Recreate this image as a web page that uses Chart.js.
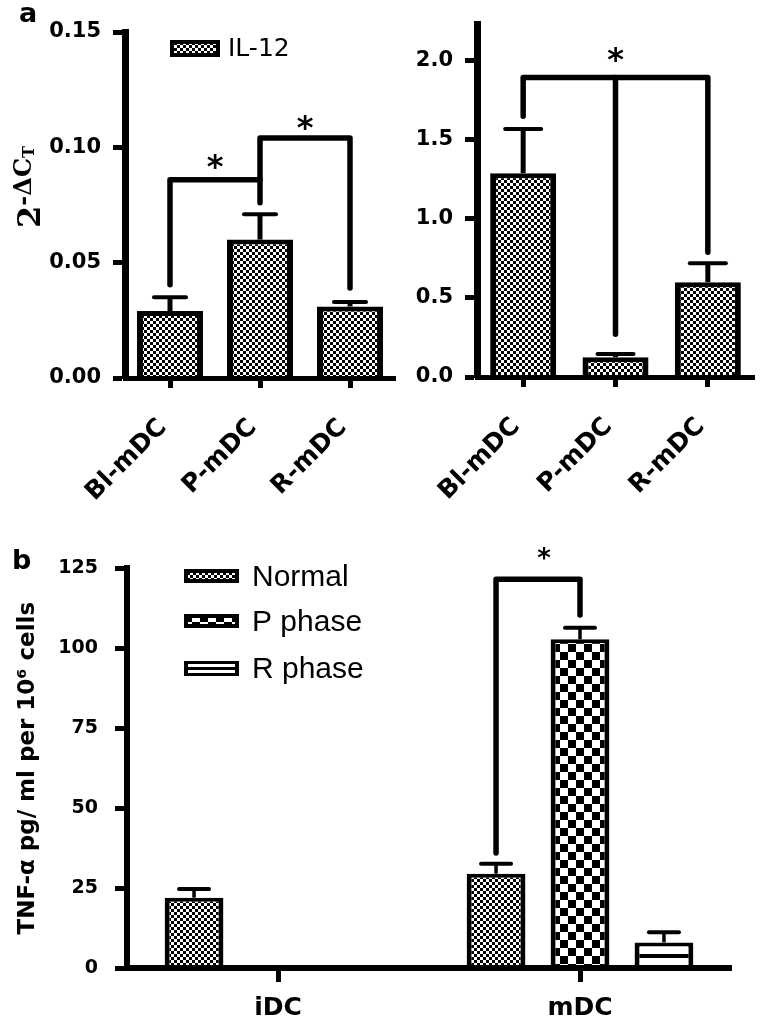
<!DOCTYPE html>
<html>
<head>
<meta charset="utf-8">
<script src="https://cdn.jsdelivr.net/npm/chart.js@4.4.0/dist/chart.umd.min.js"></script>
<style>
html, body { margin: 0; padding: 0; background: #fff; }
#page { position: relative; width: 770px; height: 1017px; overflow: hidden; background: #fff; }
canvas { position: absolute; }
</style>
</head>
<body>
<div id="page">
  <canvas id="il12Left" width="400" height="540" style="left:0;top:0;width:400px;height:540px"></canvas>
  <canvas id="il12Right" width="380" height="540" style="left:390px;top:0;width:380px;height:540px"></canvas>
  <canvas id="tnf" width="770" height="477" style="left:0;top:540px;width:770px;height:477px"></canvas>
</div>
<script>
// panel a
let labelsA = ["Bl-mDC", "P-mDC", "R-mDC"];
let il12Left = [0.029, 0.060, 0.031];
let il12LeftErr = [0.006, 0.011, 0.002];
let il12Right = [1.29, 0.125, 0.60];
let il12RightErr = [0.28, 0.02, 0.12];
let ticksLeft = [0, 0.05, 0.10, 0.15];
let ticksRight = [0, 0.5, 1.0, 1.5, 2.0];
// brackets: [from, to, top, fromEnd, toEnd, mid, midEnd]; points are [dataset, index]
let bracketsLeft = [[[0, 0], [0, 1], 0.086, 0.0404, 0.076], [[0, 1], [0, 2], 0.104, 0.086, 0.039]];
let starsLeft = [[[0, 0], [0, 1], 0.095], [[0, 1], [0, 2], 0.112]];
let bracketsRight = [[[0, 0], [0, 2], 1.895, 1.65, 0.79, [0, 1], 0.27]];
let starsRight = [[[0, 1], [0, 1], 2.06]];

// panel b
let labelsB = ["iDC", "mDC"];
let seriesB = ["Normal", "P phase", "R phase"];
let tnfNormal = [22, 29.5];
let tnfNormalErr = [2.7, 3.1];
let tnfP = [null, 102.8];
let tnfPErr = [null, 3.6];
let tnfR = [null, 8];
let tnfRErr = [null, 3.2];
let ticksB = [0, 25, 50, 75, 100, 125];
let bracketsB = [[[0, 1], [1, 1], 121.6, 36, 110.4]];
let starsB = [[[0, 1], [1, 1], 130]];

let black = "#000";
let bold = (size) => ({family: "DejaVu Sans", size: size, weight: "bold"});

function makeTile(w, h, paint) {
    let c = document.createElement("canvas");
    c.width = w; c.height = h;
    let g = c.getContext("2d");
    g.fillStyle = "#fff"; g.fillRect(0, 0, w, h);
    g.fillStyle = black;
    paint(g);
    return g.createPattern(c, "repeat");
}
let fineChecker = makeTile(6, 6, (g) => { g.fillRect(0, 0, 3, 3); g.fillRect(3, 3, 3, 3); });
let coarseChecker = makeTile(16, 16, (g) => { g.fillRect(0, 0, 8, 8); g.fillRect(8, 8, 8, 8); });
let stripes = makeTile(4, 14, (g) => { g.fillRect(0, 8, 4, 4); });

const errorBars = {
    id: "errorBars",
    afterDatasetsDraw(chart, args, opts) {
        let ctx = chart.ctx, y = chart.scales.y;
        chart.data.datasets.forEach((ds, di) => {
            chart.getDatasetMeta(di).data.forEach((bar, i) => {
                let v = ds.data[i], e = ds.err[i];
                if (v == null || e == null) return;
                let top = y.getPixelForValue(v + e);
                ctx.save();
                ctx.strokeStyle = black;
                ctx.lineWidth = opts.stem;
                ctx.beginPath(); ctx.moveTo(bar.x, bar.y); ctx.lineTo(bar.x, top); ctx.stroke();
                ctx.lineWidth = opts.cap;
                ctx.lineCap = "round";
                ctx.beginPath(); ctx.moveTo(bar.x - opts.capWidth / 2, top); ctx.lineTo(bar.x + opts.capWidth / 2, top); ctx.stroke();
                ctx.restore();
            });
        });
    }
};

const brackets = {
    id: "brackets",
    afterDraw(chart, args, opts) {
        let ctx = chart.ctx, y = chart.scales.y;
        let px = (p) => chart.getDatasetMeta(p[0]).data[p[1]].x;
        let py = (v) => y.getPixelForValue(v);
        ctx.save();
        ctx.strokeStyle = black;
        ctx.lineWidth = opts.width;
        ctx.lineCap = "round";
        ctx.lineJoin = "round";
        opts.lines.forEach((b) => {
            let x1 = px(b[0]), x2 = px(b[1]);
            ctx.beginPath();
            ctx.moveTo(x1, py(b[3]));
            ctx.lineTo(x1, py(b[2]));
            ctx.lineTo(x2, py(b[2]));
            ctx.lineTo(x2, py(b[4]));
            ctx.stroke();
            if (b[5]) {
                let xm = px(b[5]);
                ctx.beginPath(); ctx.moveTo(xm, py(b[2])); ctx.lineTo(xm, py(b[6])); ctx.stroke();
            }
        });
        ctx.fillStyle = black;
        ctx.font = "bold " + opts.starSize + "px 'DejaVu Sans'";
        ctx.textAlign = "center";
        ctx.textBaseline = "alphabetic";
        opts.stars.forEach((s) => {
            ctx.fillText("*", (px(s[0]) + px(s[1])) / 2 + (opts.starShift || 0), py(s[2]) + opts.starSize * 0.57);
        });
        ctx.restore();
    }
};

// texts and legend of panel a, drawn on the left chart
const panelAText = {
    id: "panelAText",
    afterDraw(chart) {
        let ctx = chart.ctx;
        ctx.save();
        ctx.fillStyle = black;
        ctx.font = "bold 27px 'DejaVu Sans'";
        ctx.fillText("a", 19, 22);
        // legend
        ctx.fillStyle = fineChecker;
        ctx.fillRect(170, 40, 50, 17);
        ctx.strokeStyle = black; ctx.lineWidth = 4;
        ctx.strokeRect(172, 42, 46, 13);
        ctx.fillStyle = black;
        ctx.font = "25px 'DejaVu Sans'";
        ctx.textBaseline = "middle";
        ctx.fillText("IL-12", 228, 49);
        // y title 2^-ΔCT
        ctx.translate(30, 187);
        ctx.rotate(-Math.PI / 2);
        ctx.textBaseline = "alphabetic";
        let parts = [["2", "bold 32px 'DejaVu Serif'", 10], ["-ΔC", "bold 24px 'DejaVu Serif'", 1], ["T", "bold 16px 'DejaVu Serif'", 4]];
        let total = 0;
        parts.forEach((p) => { ctx.font = p[1]; total += ctx.measureText(p[0]).width; });
        let x = -total / 2;
        parts.forEach((p) => { ctx.font = p[1]; ctx.fillText(p[0], x, p[2]); x += ctx.measureText(p[0]).width; });
        ctx.restore();
    }
};

const panelBText = {
    id: "panelBText",
    afterDraw(chart) {
        let ctx = chart.ctx;
        ctx.save();
        ctx.fillStyle = black;
        ctx.font = "bold 27px 'DejaVu Sans'";
        ctx.fillText("b", 12, 29);
        let fills = [fineChecker, coarseChecker, null];
        let rows = [36, 81, 128];
        seriesB.forEach((name, i) => {
            let top = rows[i] - 7;
            if (fills[i]) {
                ctx.save();
                ctx.translate(184, top);
                ctx.fillStyle = fills[i];
                ctx.fillRect(0, 0, 55, 14);
                ctx.restore();
                ctx.strokeStyle = black; ctx.lineWidth = 4;
                ctx.strokeRect(186, top + 2, 51, 10);
            } else {
                ctx.fillStyle = black;
                ctx.fillRect(184, top, 55, 15);
                ctx.fillStyle = "#fff";
                ctx.fillRect(188, top + 3, 47, 3);
                ctx.fillRect(188, top + 9, 47, 3);
            }
            ctx.fillStyle = black;
            ctx.font = "30px 'Liberation Sans'";
            ctx.textBaseline = "alphabetic";
            ctx.fillText(name, 252, rows[i] + 10);
        });
        ctx.restore();
    }
};

function axisX(height, fontSize, rotation, padding, tickLength, borderWidth, labelOffset) {
    return {
        afterFit: (s) => { s.height = height; },
        border: {display: true, color: black, width: borderWidth, z: 1},
        grid: {offset: false, drawOnChartArea: false, tickLength: tickLength, tickWidth: 5, tickColor: black},
        ticks: {color: black, font: bold(fontSize), minRotation: rotation, maxRotation: rotation, padding: padding, labelOffset: labelOffset}
    };
}
function axisY(width, min, max, tickValues, digits, fontSize, padding, borderWidth) {
    return {
        min: min, max: max,
        afterFit: (s) => { s.width = width; },
        afterBuildTicks: (s) => { s.ticks = tickValues.map((v) => ({value: v})); },
        border: {display: true, color: black, width: borderWidth, z: 1},
        grid: {drawOnChartArea: false, tickLength: 12, tickWidth: 5, tickColor: black},
        ticks: {color: black, font: bold(fontSize), padding: padding, callback: (v) => v.toFixed(digits)}
    };
}

let common = {
    responsive: false,
    animation: false,
    devicePixelRatio: 1,
    events: []
};

new Chart(document.getElementById("il12Left"), {
    type: "bar",
    data: {
        labels: labelsA,
        datasets: [{label: "IL-12", data: il12Left, err: il12LeftErr, backgroundColor: fineChecker, borderColor: black,
            borderWidth: {top: 5, left: 6, right: 6, bottom: 0}, borderSkipped: false,
            categoryPercentage: 1, barPercentage: 0.733}]
    },
    options: Object.assign({}, common, {
        layout: {padding: {top: 32, right: 5, left: 0, bottom: 0}},
        scales: {
            x: axisX(162, 25, 45, 25, 10, 5, -7),
            y: axisY(125, 0, 0.15, ticksLeft, 2, 21, 12, 7)
        },
        plugins: {
            legend: {display: false},
            tooltip: {enabled: false},
            errorBars: {stem: 5, cap: 4, capWidth: 32},
            brackets: {width: 5.5, lines: bracketsLeft, stars: starsLeft, starSize: 32}
        }
    }),
    plugins: [errorBars, brackets, panelAText]
});

new Chart(document.getElementById("il12Right"), {
    type: "bar",
    data: {
        labels: labelsA,
        datasets: [{label: "IL-12", data: il12Right, err: il12RightErr, backgroundColor: fineChecker, borderColor: black,
            borderWidth: {top: 5, left: 6, right: 6, bottom: 0}, borderSkipped: false,
            categoryPercentage: 1, barPercentage: 0.715}]
    },
    options: Object.assign({}, common, {
        layout: {padding: {top: 12, right: 16, left: 0, bottom: 0}},
        scales: {
            x: axisX(163, 25, 45, 25, 10, 5, -7),
            y: axisY(87, 0, 2.23, ticksRight, 1, 21, 12, 7)
        },
        plugins: {
            legend: {display: false},
            tooltip: {enabled: false},
            errorBars: {stem: 5, cap: 4, capWidth: 36},
            brackets: {width: 5.5, lines: bracketsRight, stars: starsRight, starSize: 32}
        }
    }),
    plugins: [errorBars, brackets]
});

let yB = axisY(127, 0, 125, ticksB, 0, 19, 17, 6);
yB.title = {display: true, text: "TNF-α pg/ ml per 10⁶ cells", color: black, font: bold(23), padding: {top: 14, bottom: 0}};

new Chart(document.getElementById("tnf"), {
    type: "bar",
    data: {
        labels: labelsB,
        datasets: [
            {label: seriesB[0], data: tnfNormal, err: tnfNormalErr, backgroundColor: fineChecker},
            {label: seriesB[1], data: tnfP, err: tnfPErr, backgroundColor: coarseChecker},
            {label: seriesB[2], data: tnfR, err: tnfRErr, backgroundColor: stripes}
        ]
    },
    options: Object.assign({}, common, {
        layout: {padding: {top: 25, right: 39, left: 0, bottom: 0}},
        datasets: {bar: {borderColor: black, borderWidth: {top: 4, left: 5, right: 5, bottom: 0}, borderSkipped: false,
            categoryPercentage: 0.834, barPercentage: 0.70}},
        scales: {
            x: axisX(49, 25, 0, 11, 14, 6, 0),
            y: yB
        },
        plugins: {
            legend: {display: false},
            tooltip: {enabled: false},
            errorBars: {stem: 3.5, cap: 4, capWidth: 30},
            brackets: {width: 5.5, lines: bracketsB, stars: starsB, starSize: 26, starShift: 6}
        }
    }),
    plugins: [errorBars, brackets, panelBText]
});
</script>
</body>
</html>
